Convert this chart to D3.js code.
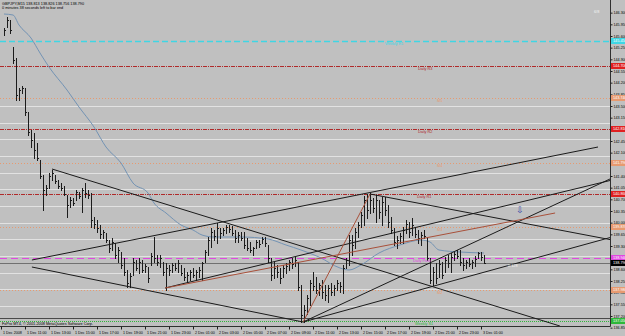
<!DOCTYPE html>
<html>
<head>
<meta charset="utf-8">
<script src="https://d3js.org/d3.v7.min.js"></script>
<style>
  html, body { margin: 0; padding: 0; background: #c0c0c0; overflow: hidden; }
  svg { display: block; font-family: "Liberation Sans", Arial, sans-serif; }
  .axis text { font-size: 3.7px; fill: #000; }
  .axis line, .axis path { stroke: #202020; }
</style>
</head>
<body>
<div id="chart"></div>
<script>
const symbolTitle = 'GBPJPY,M15  138.813 138.826 138.756 138.790';
const timerText = '0 minutes 38 seconds left to bar end';
const copyright = 'FxPro MT4, \u00a9 2001-2008 MetaQuotes Software Corp.';
const cornerText = '6/8';
const spreadText = '0.128';

// M15 bars from 1 Dec 2008 09:15, [open, high, low, close]
const bars = [
  [145.69,145.84,145.63,145.78],[145.90,146.17,145.87,146.08],[146.05,146.08,145.69,145.78],[145.24,145.27,144.79,144.88],
  [144.88,144.94,143.68,143.83],[143.83,144.04,143.68,143.98],[143.98,144.10,143.89,144.04],[144.01,144.04,143.23,143.32],
  [143.29,143.32,142.63,142.72],[142.72,142.78,142.27,142.48],[142.48,142.69,141.94,142.18],[142.18,142.39,141.88,141.94],
  [141.88,141.88,141.34,141.40],[141.40,141.43,140.38,140.98],[140.98,141.13,140.83,141.04],[141.07,141.49,141.04,141.40],
  [141.40,141.58,141.28,141.49],[141.40,141.43,141.19,141.25],[141.25,141.28,141.04,141.10],[141.10,141.19,140.98,141.04],
  [141.04,141.10,140.83,140.86],[140.80,140.83,140.17,140.53],[140.53,140.77,140.47,140.68],[140.68,140.74,140.53,140.59],
  [140.71,140.98,140.68,140.92],[140.89,140.92,140.74,140.80],[140.80,141.04,140.32,140.98],[140.98,141.19,140.77,140.89],
  [140.89,140.98,140.74,140.83],[140.83,140.89,139.87,140.08],[140.08,140.17,139.84,139.96],[139.96,140.08,139.72,139.84],
  [139.84,139.93,139.54,139.66],[139.66,139.78,139.54,139.72],[139.69,139.69,139.42,139.48],[139.48,139.48,139.12,139.24],
  [139.24,139.54,139.18,139.42],[139.39,139.39,138.94,139.03],[139.03,139.27,138.82,139.18],[139.12,139.12,138.64,138.73],
  [138.73,138.94,138.43,138.52],[138.52,138.58,138.07,138.19],[138.19,138.49,138.07,138.40],[138.46,138.94,138.43,138.82],
  [138.82,138.88,138.58,138.64],[138.64,138.94,138.49,138.82],[138.82,138.88,138.52,138.58],[138.58,138.76,138.52,138.70],
  [138.67,138.67,138.22,138.34],[138.76,139.09,138.73,139.00],[139.00,139.57,138.82,138.94],[138.94,139.03,138.73,138.82],
  [138.82,139.03,138.67,138.94],[138.82,138.82,138.43,138.52],[138.52,138.79,137.98,138.64],[138.64,138.73,138.43,138.58],
  [138.58,138.79,138.52,138.73],[138.73,138.79,138.58,138.64],[138.64,138.88,138.52,138.79],[138.73,138.73,138.43,138.49],
  [138.49,138.64,138.28,138.37],[138.37,138.52,138.22,138.43],[138.43,138.58,138.28,138.52],[138.52,138.64,138.37,138.43],
  [138.43,138.58,138.28,138.52],[138.52,138.67,138.37,138.58],[138.58,138.82,138.28,138.79],[138.82,139.18,138.82,139.12],
  [139.12,139.57,139.03,139.48],[139.48,139.84,139.27,139.72],[139.72,139.78,139.48,139.60],[139.60,139.99,139.39,139.84],
  [139.84,139.84,139.54,139.69],[139.69,139.84,139.63,139.78],[139.78,139.93,139.69,139.87],[139.87,139.93,139.72,139.81],
  [139.81,139.90,139.63,139.69],[139.69,139.78,139.42,139.54],[139.54,139.72,139.42,139.63],[139.63,139.72,139.48,139.54],
  [139.54,139.72,139.24,139.33],[139.33,139.54,139.18,139.24],[139.24,139.42,139.12,139.18],[139.18,139.27,139.03,139.24],
  [139.24,139.48,139.24,139.42],[139.42,139.48,139.27,139.36],[139.42,139.57,139.39,139.51],[139.51,139.57,139.30,139.39],
  [139.33,139.33,138.82,138.94],[138.94,138.94,138.28,138.43],[138.43,138.82,138.34,138.64],[138.64,138.73,138.37,138.52],
  [138.52,138.64,138.19,138.34],[138.40,138.73,138.37,138.64],[138.64,138.79,138.49,138.70],[138.70,138.88,138.58,138.82],
  [138.82,138.94,138.64,138.76],[138.76,138.97,138.70,138.88],[138.82,138.82,137.98,138.07],[138.07,138.13,137.02,137.23],
  [137.23,137.53,137.02,137.38],[137.38,137.83,137.26,137.74],[137.74,138.28,137.53,138.19],[138.19,138.52,137.98,138.10],
  [138.10,138.37,137.89,137.98],[137.98,138.19,137.83,138.13],[138.13,138.28,137.74,137.92],[137.92,138.13,137.68,137.83],
  [137.83,138.13,137.62,138.04],[138.04,138.19,137.83,137.92],[137.92,138.13,137.83,138.04],[138.04,138.28,137.98,138.19],
  [138.19,138.22,137.92,138.10],[138.10,138.73,137.89,138.64],[138.64,138.94,138.64,138.88],[138.88,139.63,138.73,139.48],
  [139.48,139.63,139.03,139.33],[139.33,139.84,139.24,139.72],[139.72,140.02,139.57,139.93],[139.93,140.32,139.87,140.23],
  [140.23,140.80,139.93,140.68],[140.68,140.86,140.14,140.38],[140.38,140.89,140.29,140.68],[140.68,140.74,140.32,140.44],
  [140.44,140.83,140.02,140.68],[140.68,140.68,140.14,140.32],[140.32,140.77,139.93,140.62],[140.62,140.77,140.23,140.38],
  [140.38,140.53,139.87,140.02],[140.02,140.17,139.69,139.78],[139.78,139.84,139.33,139.42],[139.42,139.60,139.24,139.48],
  [139.48,139.69,139.39,139.60],[139.60,139.87,139.39,139.78],[139.78,140.08,139.69,139.96],[139.96,140.02,139.57,139.72],
  [139.72,140.14,139.63,139.93],[139.84,139.87,139.57,139.66],[139.66,139.78,139.39,139.54],[139.54,139.72,139.33,139.63],
  [139.63,139.78,139.54,139.60],[139.54,139.54,138.88,138.94],[138.94,138.94,138.19,138.28],[138.28,138.67,138.13,138.52],
  [138.52,138.79,138.19,138.34],[138.40,138.88,138.37,138.76],[138.76,138.82,138.34,138.43],[138.58,138.97,138.52,138.88],
  [138.88,139.03,138.67,138.79],[138.79,139.09,138.52,138.97],[138.97,139.12,138.88,139.06],[139.06,139.18,138.94,139.00],
  [139.00,139.18,138.73,138.82],[138.82,138.94,138.58,138.73],[138.73,138.88,138.64,138.82],[138.82,138.94,138.70,138.76],
  [138.76,138.88,138.64,138.82],[138.82,139.00,138.70,138.91],[138.94,139.12,138.94,139.09],[139.09,139.12,138.88,138.97],
  [138.97,139.03,138.79,138.79]
];

// moving average: [bar index, value]
const maPoints = [
  [0,146.26],[3,146.23],[5,145.93],[9,145.54],[12,145.09],[15,144.67],[21,143.98],[25,143.47],[30,142.87],
  [34,142.27],[39,141.79],[43,141.19],[48,140.89],[50,140.59],[54,140.29],[59,139.93],[63,139.78],[66,139.63],
  [70,139.57],[79,139.57],[88,139.51],[94,139.33],[99,139.18],[105,138.97],[112,138.64],[115,138.58],[119,138.73],
  [125,139.09],[132,139.33],[139,139.48],[142,139.42],[145,139.18],[152,139.12],[160,139.09]
];

// trend lines: [bar index, price, bar index, price]
const trendLines = [
  [16, 141.61, 185.3, 136.90],
  [9.3, 138.67, 99.7, 137.02],
  [9.3, 138.88, 198, 142.27],
  [53.7, 138.04, 202.7, 141.28],
  [122, 140.86, 202.7, 139.48],
  [99.7, 137.02, 202.7, 141.34],
  [99.7, 137.02, 202.7, 139.57]
];
const brownLines = [
  [99.7, 137.02, 122, 140.86],
  [53.7, 138.04, 183.7, 140.29]
];

const pivotNames = ['Weekly R1','Daily R3','M5','Daily R2','M4','Daily R1','M3','Daily Pivot','M2','Weekly S1'];
const pivotPrices = [145.45, 144.70, 143.74, 142.81, 141.79, 140.86, 139.87, 138.94, 137.98, 137.05];
const roundLevels = [143.5, 143.0, 142.5, 142.0, 141.5, 141.0, 140.5, 140.0, 139.5, 139.0, 138.5, 138.0, 137.5];
const bidPrice = 138.79;
const lowLine = 137.14;
const arrowMark = [172, 140.28];

const priceTicks = [136.85, 137.20, 137.55, 137.90, 138.25, 138.60, 138.95, 139.30, 139.65, 140.00, 140.35,
  140.70, 141.05, 141.40, 141.75, 142.10, 142.45, 142.80, 143.15, 143.50, 143.85, 144.20, 144.55, 144.90,
  145.25, 145.60, 145.95, 146.30];
const timeLabels = ['1 Dec 2008','1 Dec 11:00','1 Dec 13:00','1 Dec 15:00','1 Dec 17:00','1 Dec 19:00',
  '1 Dec 21:00','1 Dec 23:00','2 Dec 01:00','2 Dec 03:00','2 Dec 05:00','2 Dec 07:00','2 Dec 09:00',
  '2 Dec 11:00','2 Dec 13:00','2 Dec 15:00','2 Dec 17:00','2 Dec 19:00','2 Dec 21:00','2 Dec 23:00','3 Dec 01:00'];

const width = 625, height = 336;
const plotW = 610, plotH = 326;
const fs = 3.8; // tiny terminal font

const labelX = { 'Weekly R1': 385, 'Daily R3': 418, 'M5': 437, 'Daily R2': 418, 'M4': 437,
  'Daily R1': 417, 'M3': 437, 'Daily Pivot': 413, 'M2': 437, 'Weekly S1': 415 };

function levelStyle(name) {
  if (name.startsWith('Weekly R')) return { color: '#3fd6e4', dash: '6,3', w: 1.4 };
  if (name.startsWith('Weekly S')) return { color: '#2fb83a', dash: '1,1', w: 1 };
  if (name === 'Daily Pivot') return { color: '#e048e0', dash: '7,4', w: 1 };
  if (name.startsWith('Daily')) return { color: '#b02a2a', dash: '4,1,1,1', w: 1 };
  return { color: '#e79a70', dash: '1,2', w: 1 };
}

const svg = d3.select('#chart').append('svg').attr('width', width).attr('height', height);
svg.append('rect').attr('width', width).attr('height', height).attr('fill', '#c0c0c0');

const x = d3.scaleLinear().domain([0, 160]).range([4, 484]);
const y = d3.scaleLinear().domain([136.90, 146.68]).range([plotH, 0]);
const py = v => Math.round(y(v)) + 0.5;

svg.append('clipPath').attr('id', 'plot').append('rect').attr('width', plotW).attr('height', plotH);
const g = svg.append('g').attr('clip-path', 'url(#plot)');

// round number levels
g.selectAll('.round').data(roundLevels).join('line')
  .attr('x1', 0).attr('x2', plotW).attr('y1', py).attr('y2', py)
  .attr('stroke', '#e2e2e2').attr('stroke-width', 1);

// pivot levels
g.selectAll('.pivot').data(pivotNames).join('line')
  .attr('x1', 0).attr('x2', plotW)
  .attr('y1', (d, i) => py(pivotPrices[i])).attr('y2', (d, i) => py(pivotPrices[i]))
  .attr('stroke', d => levelStyle(d).color)
  .attr('stroke-dasharray', d => levelStyle(d).dash)
  .attr('stroke-width', d => levelStyle(d).w);

g.append('line').attr('x1', 0).attr('x2', plotW).attr('y1', py(lowLine)).attr('y2', py(lowLine))
  .attr('stroke', '#4a4a4a');
g.append('line').attr('x1', 0).attr('x2', plotW).attr('y1', py(bidPrice)).attr('y2', py(bidPrice))
  .attr('stroke', '#707070');

// moving average
g.append('path').datum(maPoints)
  .attr('d', d3.line().x(d => x(d[0])).y(d => y(d[1])).curve(d3.curveMonotoneX))
  .attr('fill', 'none').attr('stroke', '#7393b4').attr('stroke-width', 1);

// bars: high-low stem, open tick left, close tick right
const barPath = bars.map((b, i) => {
  const cx = Math.round(x(i)) + 0.5;
  return `M${cx},${py(b[1]) - 0.5}V${py(b[2]) + 0.5}` +
    `M${cx - 1},${py(b[0])}H${cx}M${cx},${py(b[3])}H${cx + 1}`;
}).join('');
g.append('path').attr('d', barPath).attr('stroke', '#1c1c1c').attr('stroke-width', 1)
  .attr('fill', 'none').attr('shape-rendering', 'crispEdges');

// drawn objects
g.selectAll('.trend').data(trendLines).join('line')
  .attr('x1', d => x(d[0])).attr('y1', d => y(d[1])).attr('x2', d => x(d[2])).attr('y2', d => y(d[3]))
  .attr('stroke', '#1a1a1a').attr('stroke-width', 1);
g.selectAll('.brown').data(brownLines).join('line')
  .attr('x1', d => x(d[0])).attr('y1', d => y(d[1])).attr('x2', d => x(d[2])).attr('y2', d => y(d[3]))
  .attr('stroke', '#a8503a').attr('stroke-width', 1);

g.append('text').attr('x', x(arrowMark[0])).attr('y', y(arrowMark[1]))
  .attr('text-anchor', 'middle').attr('font-family', 'DejaVu Sans').attr('font-size', 9)
  .attr('fill', '#3a4aa8').text('\u21e9');

// level labels
g.selectAll('.plabel').data(pivotNames).join('text')
  .attr('x', d => labelX[d]).attr('y', (d, i) => y(pivotPrices[i]) + 4)
  .attr('font-size', fs).attr('fill', d => levelStyle(d).color).text(d => d);

g.append('text').attr('x', 508).attr('y', y(bidPrice) + 4).attr('font-size', fs)
  .attr('fill', '#f4f4f4').text(spreadText);
g.append('text').attr('x', 594).attr('y', 13).attr('font-size', fs).attr('fill', '#f4f4f4').text(cornerText);

// header and footer texts
svg.append('text').attr('x', 2).attr('y', 5).attr('font-size', fs).attr('fill', '#000').text(symbolTitle);
svg.append('text').attr('x', 2).attr('y', 9).attr('font-size', fs).attr('fill', '#000').text(timerText);
svg.append('text').attr('x', 2).attr('y', 325).attr('font-size', fs).attr('fill', '#000').text(copyright);

// frame
svg.append('path').attr('d', `M0,${plotH + 0.5}H${plotW + 0.5}V0`).attr('fill', 'none').attr('stroke', '#303030');

// price axis
const yAxis = d3.axisRight(y).tickValues(priceTicks).tickFormat(d3.format('.3f'))
  .tickSize(2).tickSizeOuter(0).tickPadding(1);
svg.append('g').attr('class', 'axis').attr('transform', `translate(${plotW + 0.5},0)`).call(yAxis)
  .call(a => a.select('.domain').remove());

// price boxes for levels and bid
const boxNames = pivotNames.concat(['bid']);
const boxPrices = pivotPrices.concat([bidPrice]);
const boxes = svg.append('g').selectAll('g').data(boxNames).join('g')
  .attr('transform', (d, i) => `translate(${plotW + 1},${y(boxPrices[i])})`);
boxes.append('rect').attr('x', 0).attr('y', -3).attr('width', 15).attr('height', 6)
  .attr('fill', d => d === 'bid' ? '#000' : d.startsWith('Daily R') ? '#e02020' : levelStyle(d).color);
boxes.append('text').attr('x', 2).attr('y', 1.4).attr('font-size', fs).attr('fill', '#fff')
  .text((d, i) => d3.format('.3f')(boxPrices[i]));

// time axis
const xAxis = d3.axisBottom(x).tickValues(timeLabels.map((d, k) => k * 8 - 1))
  .tickFormat((d, k) => timeLabels[k]).tickSize(3).tickSizeOuter(0).tickPadding(1.5);
svg.append('g').attr('class', 'axis').attr('transform', `translate(0,${plotH + 0.5})`).call(xAxis)
  .call(a => a.select('.domain').remove())
  .call(a => a.selectAll('text').attr('text-anchor', 'start').attr('x', 1.5));
</script>
</body>
</html>
